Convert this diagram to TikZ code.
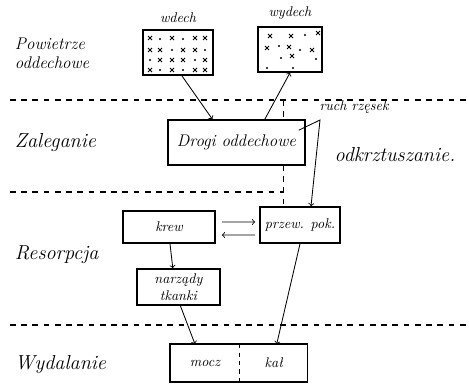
\documentclass[tikz,border=0pt]{standalone}
\usetikzlibrary{positioning}

\newcommand{\xcross}[2]{
            \draw[line width=0.6] (#1-0.05,#2-0.05) -- (#1+0.05, #2+0.05);
            \draw[line width=0.6] (#1-0.05,#2+0.05) -- (#1+0.05, #2-0.05);
        }
\newcommand{\dotmark}[2]{
            \fill (#1,#2) circle (0.03);
        }

\begin{document}
\begin{tikzpicture}[
        box/.style={draw, line width=1.2, inner sep=0, font=\itshape},
        stage/.style={anchor=west, font=\Large\itshape},
        arr/.style={->, line width=0.6},
        sep/.style={line width=1, dash pattern=on 4pt off 4pt}
    ]
        \useasboundingbox (0,0) rectangle (11.725,9.575);

        % separators
        \draw[sep] (0.25,7.075) -- (11.725,7.075);
        \draw[sep] (0.25,4.775) -- (7.075,4.775);
        \draw[sep] (0.25,1.45) -- (11.725,1.45);
        \draw[sep, line width=0.5] (7.075,7.075) -- (7.075,6.575);
        \draw[sep, line width=0.5] (7.075,5.45) -- (7.075,4.4);

        % stages
        \node[stage, align=left, font=\large\itshape] (pow) at (0.25,8.24) {Powietrze\\oddechowe};
        \node[stage] (zal) at (0.25,6.0) {Zaleganie};
        \node[stage] (res) at (0.25,3.2) {Resorpcja};
        \node[stage] (wyd) at (0.25,0.45) {Wydalanie};

        % boxes
        \node[box, minimum width=1.75cm, minimum height=1.125cm] (wdech) at (4.45,8.26) {};
        \node[box, minimum width=1.6cm, minimum height=1.125cm] (wydech) at (7.25,8.34) {};
        \node[font=\itshape, above=1pt of wdech] (wdechl) {wdech};
        \node[font=\itshape, above=1pt of wydech] (wydechl) {wydech};
        \node[box, minimum width=3.425cm, minimum height=1.125cm, font=\large\itshape] (drogi) at (5.91,6.01) {Drogi oddechowe};
        \node[box, minimum width=2.3cm, minimum height=0.8cm] (krew) at (4.225,3.9) {krew};
        \node[box, minimum width=2.0cm, minimum height=0.9cm] (przew) at (7.5,3.95) {przew. pok.};
        \node[box, minimum width=2.075cm, minimum height=0.9cm, align=center] (narz) at (4.46,2.4) {narządy\\tkanki};
        \node[box, draw=none, minimum width=1.7cm, minimum height=0.9cm] (mocz) at (5.125,0.5) {mocz};
        \node[box, draw=none, minimum width=1.65cm, minimum height=0.9cm, right=0pt of mocz] (kal) {kał};
        \draw[line width=1.2] (mocz.south west) rectangle (kal.north east);
        \draw[dashed, line width=0.5] (mocz.north east) -- (mocz.south east);

        % wdech
        \xcross{3.75}{8.625}
        \dotmark{4.0}{8.6}
        \xcross{4.3}{8.625}
        \dotmark{4.575}{8.6}
        \xcross{4.875}{8.625}
        \xcross{5.125}{8.625}
        \xcross{3.75}{8.325}
        \xcross{4.0}{8.325}
        \dotmark{4.3}{8.325}
        \xcross{4.575}{8.325}
        \xcross{4.875}{8.325}
        \dotmark{5.125}{8.325}
        \dotmark{3.75}{8.075}
        \xcross{4.0}{8.075}
        \xcross{4.3}{8.075}
        \xcross{4.575}{8.075}
        \dotmark{4.875}{8.075}
        \xcross{5.125}{8.075}
        \xcross{3.75}{7.825}
        \dotmark{4.0}{7.825}
        \xcross{4.3}{7.825}
        \dotmark{4.575}{7.825}
        \xcross{4.875}{7.825}
        \xcross{5.125}{7.825}

        % wydech
        \xcross{6.75}{8.675}
        \xcross{7.275}{8.675}
        \dotmark{7.625}{8.7}
        \xcross{7.95}{8.75}
        \xcross{6.675}{8.375}
        \dotmark{6.975}{8.425}
        \xcross{7.225}{8.4}
        \dotmark{7.5}{8.325}
        \xcross{7.8}{8.325}
        \dotmark{7.025}{8.125}
        \xcross{7.3}{8.175}
        \dotmark{7.9}{8.1}
        \dotmark{6.675}{7.875}
        \dotmark{7.325}{7.875}

        % arrows
        \draw[arr] ([xshift=0.1cm]wdech.south) -- ([xshift=-0.6cm]drogi.north);
        \draw[arr] ([xshift=0.71cm]drogi.north) -- (wydech.south);
        \coordinate (zgiecie) at (8.0,6.575);
        \draw[arr] ([xshift=-0.175cm, yshift=0.31cm]drogi.east) -- (zgiecie) -- ([xshift=0.275cm]przew.north);
        \node[font=\itshape] (ruch) at (8.85,6.9) {ruch rzęsek};
        \node[font=\Large\itshape] (odk) at (9.875,5.72) {odkrztuszanie.};
        \draw[arr] ([xshift=0.15cm, yshift=0.125cm]krew.east) -- ([xshift=-0.1cm, yshift=0.075cm]przew.west);
        \draw[arr] ([xshift=-0.1cm, yshift=-0.25cm]przew.west) -- ([xshift=0.15cm, yshift=-0.2cm]krew.east);
        \draw[arr] ([xshift=0.025cm]krew.south) -- ([xshift=-0.14cm]narz.north);
        \draw[arr] ([xshift=0.05cm]narz.south) -- ([xshift=-0.25cm]mocz.north);
        \draw[arr] (przew.south) -- ([xshift=0.075cm]kal.north);
        \end{tikzpicture}
\end{document}
